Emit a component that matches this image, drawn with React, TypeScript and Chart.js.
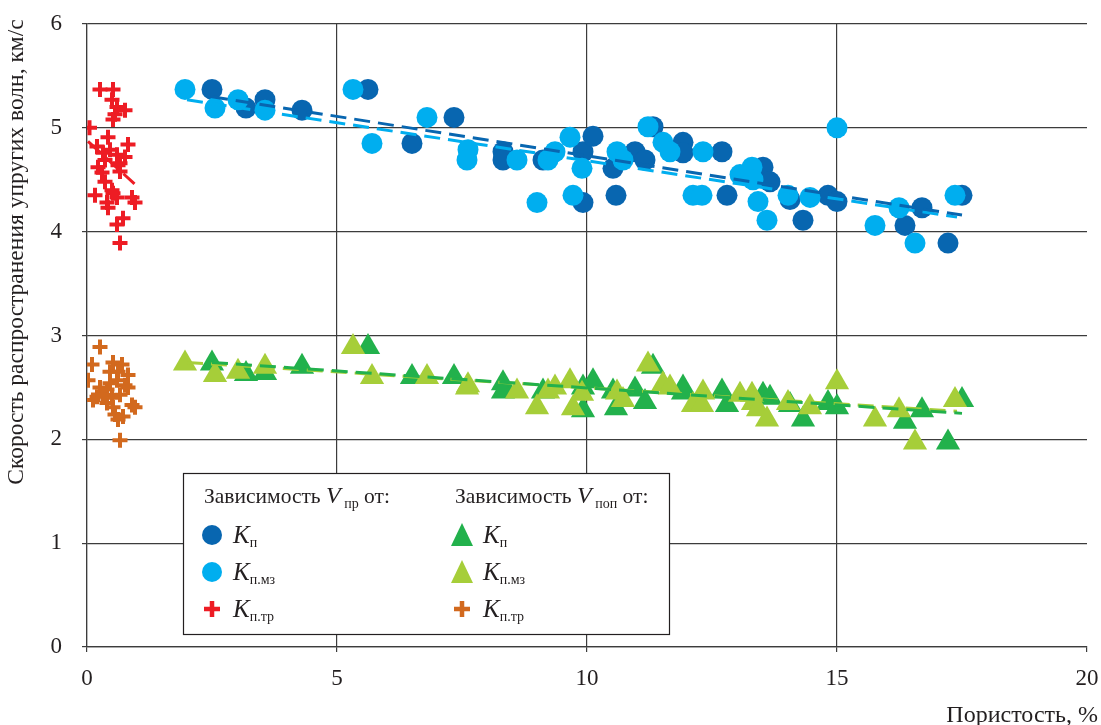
import React, { useEffect, useRef } from "react";
import { Chart, registerables } from "chart.js";

Chart.register(...registerables);

const FONT = '"Liberation Serif", "Times New Roman", serif';
const TEXT = "#231F20";
const GRID = "#3C3C3C";

const C_KP = "#0866B0";
const C_KPMZ = "#00AEEF";
const C_KPTR_PR = "#ED1C24";
const C_KP_POP = "#22B14C";
const C_KPMZ_POP = "#A6CE39";
const C_KPTR_POP = "#D2691E";

// x tick labels / axis ranges
const xTicks = [0, 5, 10, 15, 20];
const yTicks = [0, 1, 2, 3, 4, 5, 6];

// Porosity Kп samples (%)
const kpX = [2.5, 3.18, 3.56, 4.3, 5.62, 6.5, 7.34, 8.32, 8.32, 9.12, 9.92, 10.12, 9.92, 10.58, 10.96, 11.16, 10.52, 11.32, 11.92, 11.92, 12.7, 12.8, 13.52, 13.66, 14.06, 14.32, 14.82, 15.0, 16.36, 16.7, 17.22, 17.5];
const vprKp = [5.37, 5.19, 5.27, 5.17, 5.37, 4.85, 5.1, 4.77, 4.69, 4.69, 4.77, 4.92, 4.28, 4.35, 4.77, 4.69, 4.61, 5.01, 4.86, 4.76, 4.77, 4.35, 4.62, 4.48, 4.31, 4.11, 4.35, 4.29, 4.06, 4.23, 3.89, 4.35];
const vpopKp = [2.73, 2.63, 2.64, 2.7, 2.89, 2.6, 2.6, 2.54, 2.46, 2.46, 2.5, 2.56, 2.28, 2.3, 2.48, 2.36, 2.46, 2.7, 2.5, 2.45, 2.46, 2.33, 2.43, 2.4, 2.33, 2.19, 2.35, 2.31, 2.17, 2.28, 1.97, 2.38];

// Porosity Kп.мз samples (%)
const kpmzX = [1.96, 2.56, 3.02, 3.56, 5.32, 5.7, 6.8, 7.62, 7.6, 8.6, 9.0, 9.22, 9.36, 9.66, 9.72, 9.9, 10.6, 10.72, 11.22, 11.52, 11.66, 12.32, 12.12, 12.3, 13.06, 13.3, 13.32, 13.42, 13.6, 14.02, 14.46, 15.0, 15.76, 16.24, 16.56, 17.36];
const vprKpmz = [5.37, 5.19, 5.27, 5.17, 5.37, 4.85, 5.1, 4.79, 4.69, 4.69, 4.28, 4.69, 4.77, 4.91, 4.35, 4.61, 4.77, 4.69, 5.01, 4.86, 4.77, 4.77, 4.35, 4.35, 4.55, 4.62, 4.5, 4.29, 4.11, 4.35, 4.33, 5.0, 4.06, 4.23, 3.89, 4.35];
const vpopKpmz = [2.73, 2.62, 2.65, 2.7, 2.89, 2.6, 2.6, 2.52, 2.5, 2.46, 2.31, 2.46, 2.5, 2.56, 2.3, 2.44, 2.45, 2.38, 2.72, 2.53, 2.5, 2.45, 2.33, 2.33, 2.43, 2.43, 2.35, 2.29, 2.19, 2.35, 2.31, 2.55, 2.19, 2.28, 1.97, 2.38];

// Porosity Kп.тр samples (%) — Vпр
const kptrPrX = [0.26, 0.52, 0.5, 0.6, 0.76, 0.56, 0.52, 0.05, 0.42, 0.2, 0.82, 0.32, 0.6, 0.76, 0.36, 0.66, 0.22, 0.3, 0.36, 0.16, 0.52, 0.6, 0.4, 0.9, 0.96, 0.42, 0.72, 0.6, 0.66, 0.46, 0.62, 0.5, 0.66];
const vprKptr = [5.37, 5.37, 5.27, 5.2, 5.17, 5.13, 5.08, 5.0, 4.91, 4.82, 4.84, 4.76, 4.74, 4.72, 4.69, 4.66, 4.62, 4.57, 4.48, 4.35, 4.37, 4.33, 4.28, 4.33, 4.28, 4.23, 4.13, 4.07, 3.89, 4.79, 4.64, 4.4, 4.58];

// Porosity Kп.тр samples (%) — Vпоп
const kptrPopX = [0.26, 0.1, 0.52, 0.7, 0.02, 0.46, 0.62, 0.82, 0.6, 0.76, 0.26, 0.4, 0.82, 0.2, 0.12, 0.5, 0.66, 0.4, 0.9, 0.96, 0.52, 0.56, 0.72, 0.62, 0.66, 0.32, 0.46];
const vpopKptr = [2.89, 2.72, 2.74, 2.72, 2.57, 2.65, 2.65, 2.62, 2.57, 2.52, 2.5, 2.48, 2.5, 2.41, 2.38, 2.4, 2.43, 2.35, 2.33, 2.31, 2.31, 2.24, 2.22, 2.19, 1.99, 2.43, 2.54];

// Trend line end points
const trendKpPrX = [2.5, 17.5];
const trendKpPrY = [5.3, 4.16];
const trendKpmzPrX = [2.0, 17.4];
const trendKpmzPrY = [5.27, 4.14];
const trendKptrPrX = [0.02, 0.95];
const trendKptrPrY = [4.87, 4.46];
const trendKpPopX = [2.5, 17.5];
const trendKpPopY = [2.74, 2.25];
const trendKpmzPopX = [2.0, 17.4];
const trendKpmzPopY = [2.74, 2.27];

const yTitle = "Скорость распространения упругих волн, км/с";
const xTitle = "Пористость, %";

const zip = (xs: number[], ys: number[]) => xs.map((x, i) => ({ x, y: ys[i] }));

type Part = { t: string; font: string; dy?: number };

function drawRich(ctx: CanvasRenderingContext2D, x: number, y: number, parts: Part[]) {
  let cx = x;
  for (const p of parts) {
    ctx.font = p.font;
    ctx.fillText(p.t, cx, y + (p.dy || 0));
    cx += ctx.measureText(p.t).width;
  }
}

const legendPlugin = {
  id: "customLegend",
  afterDraw(chart: any) {
    const ctx: CanvasRenderingContext2D = chart.ctx;
    ctx.save();
    // axis titles
    ctx.fillStyle = TEXT;
    ctx.font = `23.5px ${FONT}`;
    ctx.textAlign = "center";
    ctx.textBaseline = "middle";
    ctx.save();
    ctx.translate(17, 252);
    ctx.rotate(-Math.PI / 2);
    ctx.fillText(yTitle, 0, 0);
    ctx.restore();
    ctx.font = `24px ${FONT}`;
    ctx.textAlign = "right";
    ctx.textBaseline = "alphabetic";
    ctx.fillText(xTitle, 1098, 722);

    // legend box
    const L = 183.5, T = 473.5, R = 669.5, B = 634.5;
    ctx.fillStyle = "#ffffff";
    ctx.fillRect(L, T, R - L, B - T);
    ctx.strokeStyle = TEXT;
    ctx.lineWidth = 1.2;
    ctx.strokeRect(L, T, R - L, B - T);

    ctx.fillStyle = TEXT;
    ctx.textAlign = "left";
    ctx.textBaseline = "alphabetic";
    const reg = `21.5px ${FONT}`;
    const ital = `italic 24px ${FONT}`;
    const sub = `14px ${FONT}`;
    drawRich(ctx, 204, 503, [
      { t: "Зависимость ", font: reg },
      { t: "V", font: ital },
      { t: " пр", font: sub, dy: 5 },
      { t: " от:", font: reg },
    ]);
    drawRich(ctx, 455, 503, [
      { t: "Зависимость ", font: reg },
      { t: "V", font: ital },
      { t: " поп", font: sub, dy: 5 },
      { t: " от:", font: reg },
    ]);
    const rows = [535, 572, 609];
    const subs = ["п", "п.мз", "п.тр"];
    const kFont = `italic 25px ${FONT}`;
    const cols = [
      { mx: 212, tx: 233, colors: [C_KP, C_KPMZ, C_KPTR_PR], kind: ["circle", "circle", "cross"] },
      { mx: 462, tx: 483, colors: [C_KP_POP, C_KPMZ_POP, C_KPTR_POP], kind: ["tri", "tri", "cross"] },
    ];
    for (const col of cols) {
      rows.forEach((ry, i) => {
        const kind = col.kind[i];
        ctx.fillStyle = col.colors[i];
        ctx.strokeStyle = col.colors[i];
        if (kind === "circle") {
          ctx.beginPath();
          ctx.arc(col.mx, ry, 10, 0, Math.PI * 2);
          ctx.fill();
        } else if (kind === "tri") {
          ctx.beginPath();
          ctx.moveTo(col.mx, ry - 12);
          ctx.lineTo(col.mx + 11, ry + 11);
          ctx.lineTo(col.mx - 11, ry + 11);
          ctx.closePath();
          ctx.fill();
        } else {
          ctx.lineWidth = 4.5;
          ctx.beginPath();
          ctx.moveTo(col.mx - 8, ry);
          ctx.lineTo(col.mx + 8, ry);
          ctx.moveTo(col.mx, ry - 8);
          ctx.lineTo(col.mx, ry + 8);
          ctx.stroke();
        }
        ctx.fillStyle = TEXT;
        drawRich(ctx, col.tx, ry + 8, [
          { t: "K", font: kFont },
          { t: subs[i], font: sub, dy: 4 },
        ]);
      });
    }
    ctx.restore();
  },
};

export default function App() {
  const ref = useRef<HTMLCanvasElement | null>(null);
  useEffect(() => {
    if (!ref.current) return;
    const scatter = (label: string, data: any[], color: string, style: string, r: number, order: number) => ({
      type: "scatter" as const,
      label,
      data,
      pointStyle: style,
      pointRadius: r,
      pointHoverRadius: r,
      backgroundColor: color,
      borderColor: color,
      borderWidth: style === "cross" ? 4 : 0,
      order,
    });
    const trend = (data: any[], color: string) => ({
      type: "line" as const,
      label: "trend",
      data,
      borderColor: color,
      borderWidth: 3,
      borderDash: [16, 8],
      pointRadius: 0,
      fill: false,
      showLine: true,
      order: 0,
    });
    const chart = new Chart(ref.current, {
      type: "scatter",
      data: {
        datasets: [
          trend(zip(trendKpPrX, trendKpPrY), C_KP),
          trend(zip(trendKpmzPrX, trendKpmzPrY), C_KPMZ),
          trend(zip(trendKptrPrX, trendKptrPrY), C_KPTR_PR),
          trend(zip(trendKpPopX, trendKpPopY), C_KP_POP),
          trend(zip(trendKpmzPopX, trendKpmzPopY), C_KPMZ_POP),
          scatter("Kп.тр Vпр", zip(kptrPrX, vprKptr), C_KPTR_PR, "cross", 7.5, 1),
          scatter("Kп.тр Vпоп", zip(kptrPopX, vpopKptr), C_KPTR_POP, "cross", 7.5, 1),
          scatter("Kп.мз Vпр", zip(kpmzX, vprKpmz), C_KPMZ, "circle", 10.5, 2),
          scatter("Kп Vпр", zip(kpX, vprKp), C_KP, "circle", 10.5, 3),
          scatter("Kп.мз Vпоп", zip(kpmzX, vpopKpmz), C_KPMZ_POP, "triangle", 14, 2),
          scatter("Kп Vпоп", zip(kpX, vpopKp), C_KP_POP, "triangle", 14, 3),
        ] as any,
      },
      options: {
        animation: false,
        responsive: false,
        events: [],
        layout: { padding: { top: 24, right: 13, left: 0, bottom: 0 } },
        plugins: { legend: { display: false }, tooltip: { enabled: false } },
        scales: {
          x: {
            type: "linear",
            min: xTicks[0],
            max: xTicks[xTicks.length - 1],
            afterBuildTicks: (s: any) => { s.ticks = xTicks.map((v) => ({ value: v })); },
            ticks: { font: { family: FONT, size: 23 }, color: TEXT, padding: 13 },
            grid: {
              color: (c: any) => (c.tick && c.tick.value === 20 ? "rgba(0,0,0,0)" : GRID),
              tickColor: GRID,
              tickLength: 5,
              lineWidth: 1.2,
            },
            border: { color: GRID, width: 1.2 },
            afterFit: (s: any) => {
              s.height = 78;
              s.paddingLeft = 0;
              s.paddingRight = 0;
              s.paddingTop = 0;
              s.paddingBottom = 0;
            },
          },
          y: {
            type: "linear",
            min: yTicks[0],
            max: yTicks[yTicks.length - 1],
            afterBuildTicks: (s: any) => { s.ticks = yTicks.map((v) => ({ value: v })); },
            ticks: { font: { family: FONT, size: 23 }, color: TEXT, padding: 20 },
            grid: { color: GRID, tickColor: GRID, tickLength: 5, lineWidth: 1.2 },
            border: { color: GRID, width: 1.2 },
            afterFit: (s: any) => {
              s.width = 87;
              s.paddingLeft = 0;
              s.paddingRight = 0;
              s.paddingTop = 0;
              s.paddingBottom = 0;
            },
          },
        },
      } as any,
      plugins: [legendPlugin],
    });
    return () => chart.destroy();
  }, []);
  return (
    <div style={{ position: "absolute", left: 0, top: 0, width: 1101, height: 725, background: "#fff" }}>
      <canvas ref={ref} width={1101} height={725} style={{ display: "block" }} />
    </div>
  );
}
